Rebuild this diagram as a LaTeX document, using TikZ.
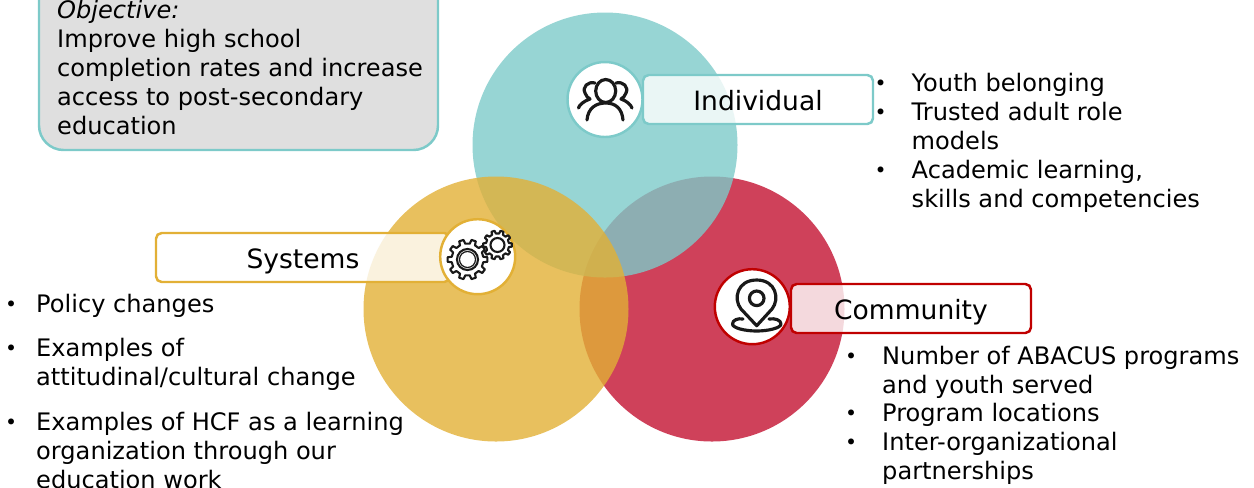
\documentclass[tikz,border=0pt]{standalone}
\usepackage{fontspec}
\setmainfont{DejaVu Sans}
\definecolor{tealmain}{HTML}{7DCAC9}
\definecolor{goldmain}{HTML}{E2B036}
\definecolor{redmain}{HTML}{C31131}
\definecolor{redline}{HTML}{C00000}
\definecolor{greyfill}{HTML}{DFDFDF}
\newcommand{\bodyfont}{\fontsize{6.85pt}{8.2pt}\selectfont}
% one bullet point: name, x of text, y of top, text
\newcommand{\bulletitem}[5][25]{
    \node[itemtext] (#2) at (#3,#4) {\strut #5};
    \node[itemdot,xshift=-#1*0.01cm] (#2dot) at (#3,#4) {\strut\raisebox{0.4pt}{\fontsize{5.8pt}{8.2pt}\selectfont •}};
}
% gear: centre, radius, teeth
\newcommand{\drawgear}[3]{
    \begin{scope}[shift={(#1)}]
        \pgfmathsetmacro{\gearwidth}{180/#3*0.55}
        \draw[iconline,line width=0.6pt] (-\gearwidth:#2*0.8)
            \foreach \k [evaluate=\k as \a using \k*360/#3] in {0,...,\numexpr#3-1\relax}
            { -- ({\a-\gearwidth}:#2*0.8) -- ({\a-\gearwidth*0.65}:#2) -- ({\a+\gearwidth*0.65}:#2) -- ({\a+\gearwidth}:#2*0.8) }
            -- cycle;
    \end{scope}
}
\tikzset{
    venn/.style={fill opacity=0.8},
    labelbox/.style={draw,line width=0.7pt,fill=white,fill opacity=0.8,text opacity=1,rounded corners=1.6pt,
        minimum height=49*0.01cm,inner sep=0,text height=6.5pt,text depth=0pt,font=\fontsize{7.55pt}{9pt}\selectfont},
    iconcircle/.style={circle,draw,line width=0.7pt,fill=white,inner sep=0,minimum size=75*0.01cm},
    iconline/.style={line width=0.9pt,line cap=round,line join=round,draw=black!90},
    itemtext/.style={anchor=north west,inner sep=0,align=left,font=\bodyfont},
    itemdot/.style={anchor=north west,inner sep=0,font=\bodyfont},
}
\begin{document}
\begin{tikzpicture}[x=0.01cm,y=-0.01cm]
    \useasboundingbox (0,0) rectangle (1254,487);
    \clip (0,0) rectangle (1254,487);
    % circles
    \fill[venn,redmain] (712,309) circle (132.5);
    \fill[venn,tealmain] (605,145) circle (132.5);
    \fill[venn,goldmain] (496,309) circle (132.5);
    % objective
    \draw[line width=0.7pt,draw=tealmain,fill=greyfill,rounded corners=7pt] (39,-40) rectangle (438,150);
    \node[itemtext] (objective) at (56.5,-2) {\strut\textit{Objective:}\\Improve high school\\completion rates and increase\\access to post-secondary\\education};
    % label boxes
    \node[labelbox,draw=tealmain,minimum width=230*0.01cm] (individual) at (758,99.5) {Individual};
    \node[labelbox,draw=goldmain,minimum width=294*0.01cm] (systems) at (303,257.5) {Systems};
    \node[labelbox,draw=redline,minimum width=240*0.01cm] (community) at (911,308.5) {Community};
    % icon circles
    \node[iconcircle,draw=tealmain] (individualicon) at (605,99.5) {};
    \node[iconcircle,draw=goldmain] (systemsicon) at (477.7,256.7) {};
    \node[iconcircle,draw=redline] (communityicon) at (752.3,306.7) {};
    % people
    \draw[iconline] (605.7,91) ellipse (10 and 11.5);
    \draw[iconline] (587,120) .. controls (588,108) and (596,103) .. (605.7,103) .. controls (615,103) and (622,108) .. (623,120);
    \draw[iconline] (595,83) .. controls (588,81) and (582,87) .. (585,93) .. controls (586,96) and (588,98) .. (590,99) .. controls (584,101) and (579,105) .. (578.5,108);
    \draw[iconline] (616,83) .. controls (623,81) and (629,87) .. (626,93) .. controls (625,96) and (623,98) .. (621,99) .. controls (627,101) and (631,105) .. (632,108);
    % gears
    \drawgear{467.5,259.5}{20}{10}
    \draw[iconline,line width=0.6pt] (467.5,259.5) circle (10.5);
    \draw[iconline,line width=0.35pt] (467.5,259.5) circle (8);
    \drawgear{497.5,245}{14.5}{10}
    \draw[iconline,line width=0.6pt] (497.5,245) circle (7);
    % pin
    \draw[iconline] (756.7,325.7) -- (741,309) .. controls (733,299) and (737,280) .. (756.7,280) .. controls (776,280) and (780,299) .. (772,309) -- cycle;
    \draw[iconline] (756.7,298.3) circle (7.3);
    \draw[iconline] (743,319) .. controls (738,318) and (732.5,320) .. (732.5,324) .. controls (732.5,328) and (745,331) .. (756.7,331) .. controls (768,331) and (781,328) .. (781,324) .. controls (781,320) and (775,318) .. (769,319);
    % lists
    \bulletitem[37]{belonging}{911}{71}{Youth belonging}
    \bulletitem[37]{rolemodels}{911}{100}{Trusted adult role\\models}
    \bulletitem[37]{academic}{911}{158}{Academic learning,\\skills and competencies}
    \bulletitem[37]{programs}{881.5}{344}{Number of ABACUS programs\\and youth served}
    \bulletitem[37]{locations}{881.5}{401}{Program locations}
    \bulletitem[37]{partnerships}{881.5}{430}{Inter-organizational\\partnerships}
    \bulletitem[31]{policy}{35.5}{292}{Policy changes}
    \bulletitem[31]{attitudinal}{35.5}{336}{Examples of\\attitudinal/cultural change}
    \bulletitem[31]{learningorg}{35.5}{410}{Examples of HCF as a learning\\organization through our\\education work}
\end{tikzpicture}
\end{document}
